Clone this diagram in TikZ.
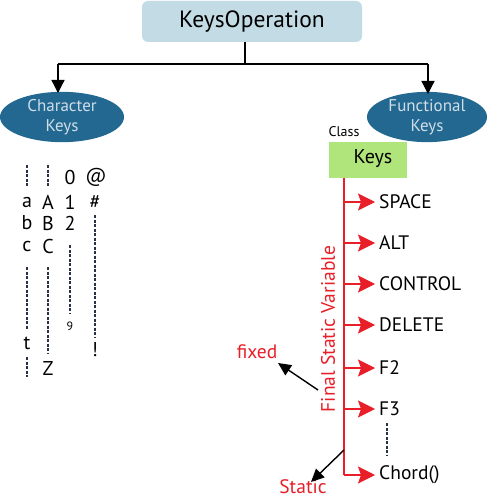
\documentclass[tikz,border=0pt]{standalone}
\usepackage{fontspec}
\setmainfont{PT Sans}
\usetikzlibrary{arrows.meta,shapes.geometric}
\definecolor{topblue}{RGB}{194,219,229}
\definecolor{ellblue}{RGB}{34,104,145}
\definecolor{elltext}{RGB}{208,222,232}
\definecolor{keygreen}{RGB}{176,229,124}
\definecolor{redc}{RGB}{232,30,40}
\definecolor{dashc}{RGB}{40,50,70}
\tikzset{
  blk/.style={line width=1.3pt,-{Triangle[length=13pt,width=13pt]}},
  ell/.style={ellipse,fill=ellblue,minimum width=124pt,minimum height=46pt,inner sep=0pt,text=elltext,font=\fontsize{17}{20}\selectfont,align=center},
  redarr/.style={redc,line width=1.3pt,-{Stealth[length=17pt,width=17pt,inset=3pt]}},
  lbl/.style={anchor=west,font=\fontsize{19.5}{22}\selectfont,inner sep=0pt},
  ch/.style={font=\fontsize{20}{22}\selectfont,inner sep=0pt},
  dl/.style={dashc,line width=1.2pt,dash pattern=on 3pt off 1.5pt},
  redtxt/.style={text=redc,font=\fontsize{19.5}{22}\selectfont,inner sep=0pt},
  pointer/.style={line width=1.4pt,-{Triangle[length=13pt,width=12pt]}}
}
\begin{document}
\begin{tikzpicture}[x=1pt,y=-1pt]
\useasboundingbox (0,0) rectangle (500,500);
% top box
\node[fill=topblue,rounded corners=6pt,minimum width=220pt,minimum height=41pt,inner sep=0pt,font=\fontsize{23.5}{26}\selectfont] (top) at (252,21.5) {KeysOperation};
\node[ell] (ck) at (62,117) {Character\\Keys};
\node[ell,minimum width=120pt] (fk) at (427,117) {Functional\\Keys};
\coordinate (j) at (245,64);
\coordinate (jl) at (58,64);
\coordinate (jr) at (428,64);
\draw[line width=1.3pt] (top.south -| j) -- (j);
\draw[line width=1.3pt] (jl) -- (jr);
\draw[blk] (jl) -- (58,93);
\draw[blk] (jr) -- (428,94);
% class keys
\node[font=\fontsize{14}{16}\selectfont,inner sep=0pt] (cls) at (344,132) {Class};
\node[fill=keygreen,minimum width=78pt,minimum height=36pt,inner sep=0pt] (kb) at (368,159.5) {};
\node[ch] (kt) at (373,159) {Keys};
% red spine
\coordinate (s0) at (344,177.5);
\coordinate (s1) at (344,202);
\coordinate (s2) at (344,243);
\coordinate (s3) at (344,284);
\coordinate (s4) at (344,325);
\coordinate (s5) at (344,368);
\coordinate (s6) at (344,409);
\coordinate (s7) at (344,475);
\coordinate (sst) at (344,450);
\draw[redc,line width=2pt] (s0) -- (s7);
\node[lbl] (l1) at (379,202) {SPACE};
\node[lbl] (l2) at (379,243) {ALT};
\node[lbl] (l3) at (379,284) {CONTROL};
\node[lbl] (l4) at (379,325) {DELETE};
\node[lbl] (l5) at (379,368) {F2};
\node[lbl] (l6) at (379,409) {F3};
\node[lbl] (l7) at (379,475) {Chord()};
\foreach \i in {1,...,7} {\draw[redarr] (s\i) -- ([xshift=-4pt]l\i.west);}
\coordinate (fd1) at (387,423);
\coordinate (fd2) at (387,455);
\draw[dl] (fd1) -- (fd2);
% rotated label
\node[redtxt,rotate=90] (fsv) at (328,329) {Final Static Variable};
\node[redtxt] (fx) at (257,352) {fixed};
\node[redtxt] (st) at (303,487) {Static};
\coordinate (fxs) at (318,390);
\draw[pointer] (fxs) -- (278,363);
\draw[pointer] (sst) -- (311,482);
% left columns
\node[ch] (a) at (27,202) {a};
\node[ch] (b) at (27,223) {b};
\node[ch] (c) at (27,246) {c};
\node[ch] (t) at (27,343) {t};
\node[ch] (A) at (48,202) {A};
\node[ch] (B) at (48,223) {B};
\node[ch] (C) at (48,246) {C};
\node[ch] (Z) at (48,368) {Z};
\node[ch] (n0) at (70,177) {0};
\node[ch] (n1) at (70,202) {1};
\node[ch] (n2) at (70,223) {2};
\node[font=\fontsize{12}{14}\selectfont,inner sep=0pt] (n9) at (70,326) {9};
\node[ch] (at) at (96,177) {@};
\node[ch] (hs) at (95,202) {\#};
\node[ch] (ex) at (95,350) {!};
\draw[dl] (27,165) -- (27,187);
\draw[dl] (27,267) -- (27,330);
\draw[dl] (27,357) -- (27,377);
\draw[dl] (48,165) -- (48,187);
\draw[dl] (48,267) -- (48,353);
\draw[dl] (70,245) -- (70,313);
\draw[dl] (95,215) -- (95,338);
\end{tikzpicture}
\end{document}
